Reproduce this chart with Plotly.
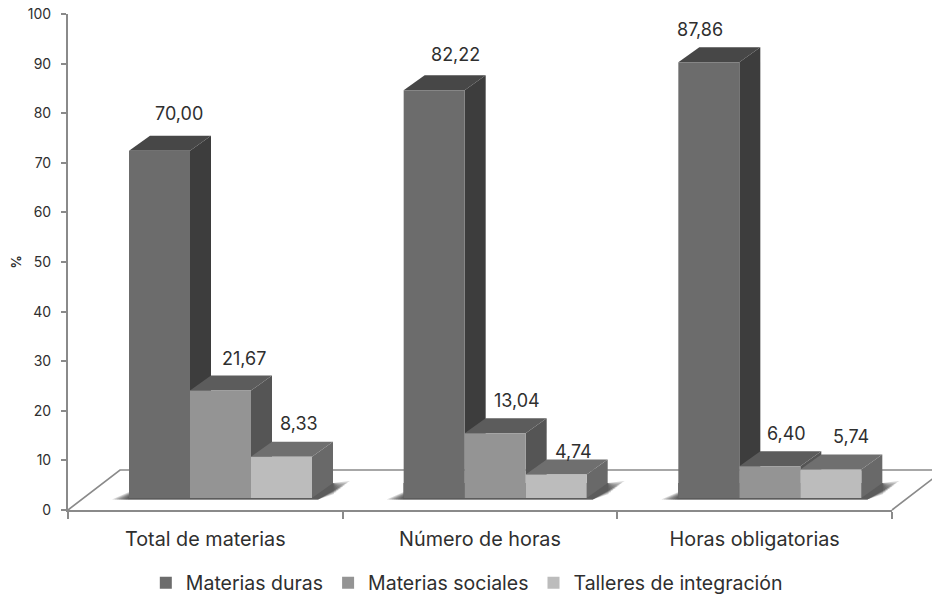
import plotly.graph_objects as go

categories = ["Total de materias", "Número de horas", "Horas obligatorias"]
series_names = ["Materias duras", "Materias sociales", "Talleres de integración"]
materias_duras = [70.00, 82.22, 87.86]
materias_sociales = [21.67, 13.04, 6.40]
talleres = [8.33, 4.74, 5.74]
all_values = [materias_duras, materias_sociales, talleres]
value_labels = [["70,00", "82,22", "87,86"], ["21,67", "13,04", "6,40"], ["8,33", "4,74", "5,74"]]
y_ticks = list(range(0, 101, 10))

front = ["#6c6c6c", "#949494", "#bcbcbc"]
top = ["#474747", "#5c5c5c", "#6f6f6f"]
side = ["#3d3d3d", "#555555", "#696969"]
label_dx = [[19.5, 21.5, -8.5], [23.5, 21.5, 16.5], [17.5, 17.5, 20.5]]
label_dy = [[22, 21, 18], [17, 18, 18], [18, 8, 18]]

FONT = "Inter"
TXT = "#2f2f2f"
AX = "#8a8a8a"
PXX = 824 / 3
PXY = 496 / 100
BASE = 12 / PXY
BAR_W = 61 / PXX
GROUP_OFF = 61 / PXX
DX = 21 / PXX
DY = 15 / PXY
FLOOR_DX = 52 / PXX
FLOOR_DY = 40 / PXY


def poly(pts, color, opacity=1.0, paper=False):
    if paper:
        pts = [(x / 3, y / 100) for x, y in pts]
    path = "M " + " L ".join(f"{x:.5f},{y:.5f}" for x, y in pts) + " Z"
    ref = "paper" if paper else None
    return dict(type="path", path=path, xref=ref or "x", yref=ref or "y", layer="below",
                fillcolor=color, opacity=opacity, line=dict(width=0))


shapes = []
# floor (paper reference so that it runs past the plot area, up to the page edge)
floor_pts = [(0, 0), (FLOOR_DX, FLOOR_DY), (3 + FLOOR_DX, FLOOR_DY), (3, 0)]
shapes.append(dict(type="path", xref="paper", yref="paper", layer="below",
                   path="M " + " L ".join(f"{x/3:.5f},{y/100:.5f}" for x, y in floor_pts),
                   line=dict(color=AX, width=1.6), fillcolor="rgba(0,0,0,0)"))
# soft shadow below each group
LAYERS = [1.0, 0.86, 0.72, 0.58, 0.44, 0.30, 0.16, 0.0]
for g in range(3):
    x0 = g + GROUP_OFF
    x1 = x0 + 3 * BAR_W
    for grow in LAYERS:
        e = (1 + 16 * grow) / PXX
        h = (4 + 13 * grow) / PXY
        left_h = (1 + 5 * grow) / PXY
        shapes.append(poly([(x0 - e, BASE - 1.5 / PXY), (x1 + 6 / PXX, BASE - 1.5 / PXY),
                            (x1 + e + DX, BASE + h), (x1 + DX, BASE + DY),
                            (x0, BASE + DY), (x0, BASE + left_h)],
                           "#3a3a3a", opacity=0.2, paper=True))
# depth faces
for g in range(3):
    for s in range(3):
        v = all_values[s][g]
        x0 = g + GROUP_OFF + s * BAR_W
        x1 = x0 + BAR_W
        yb = BASE
        yt = BASE + v
        shapes.append(poly([(x1, yb), (x1 + DX, yb + DY), (x1 + DX, yt + DY), (x1, yt)], side[s]))
        shapes.append(poly([(x0, yt), (x0 + DX, yt + DY), (x1 + DX, yt + DY), (x1, yt)], top[s]))

fig = go.Figure()
for s in range(3):
    fig.add_trace(go.Bar(
        name=series_names[s],
        x=[g + GROUP_OFF + (s + 0.5) * BAR_W for g in range(3)],
        y=all_values[s], base=BASE, width=BAR_W,
        marker=dict(color=front[s], line=dict(width=0)),
        hoverinfo="skip",
    ))

annotations = []
for s in range(3):
    for g in range(3):
        annotations.append(dict(
            x=g + GROUP_OFF + (s + 0.5) * BAR_W, y=BASE + all_values[s][g],
            xref="x", yref="y", text=value_labels[s][g], showarrow=False,
            xshift=label_dx[s][g], yshift=15 + label_dy[s][g],
            font=dict(family=FONT, size=18, color=TXT),
        ))

fig.update_layout(
    width=932, height=595,
    margin=dict(l=68, r=40, t=14, b=85, autoexpand=False),
    paper_bgcolor="white", plot_bgcolor="white",
    barmode="overlay", shapes=shapes, annotations=annotations,
    showlegend=True,
    legend=dict(orientation="h", x=0.484, xanchor="center", y=-0.108, yanchor="top",
                font=dict(family=FONT, size=19.5, color=TXT), itemwidth=30,
                traceorder="normal"),
    xaxis=dict(range=[0, 3], tickmode="array", tickvals=[0.5, 1.5, 2.5], ticktext=categories,
               ticks="outside", ticklen=10, tickcolor="rgba(0,0,0,0)",
               showgrid=False, zeroline=False, showline=True, linecolor=AX, linewidth=2,
               tickfont=dict(family=FONT, size=19.8, color=TXT),
               minor=dict(tickmode="array", tickvals=[0, 1, 2, 3], ticks="outside", ticklen=7,
                          tickcolor=AX, tickwidth=1.5, showgrid=False)),
    yaxis=dict(range=[0, 100], tickmode="array", tickvals=y_ticks, ticks="outside", ticklen=12,
               tickcolor="rgba(0,0,0,0)", showgrid=False, zeroline=False, showline=True,
               linecolor=AX, linewidth=2, tickfont=dict(family=FONT, size=14, color=TXT),
               minor=dict(tickmode="array", tickvals=y_ticks, ticks="outside", ticklen=5,
                          tickcolor=AX, tickwidth=1.5, showgrid=False),
               title=dict(text="<b>%</b>", font=dict(family=FONT, size=13, color=TXT), standoff=3)),
    font=dict(family=FONT),
)

fig.write_html("out.html", config={"displayModeBar": False},
               post_script="document.body.style.margin='0';")
